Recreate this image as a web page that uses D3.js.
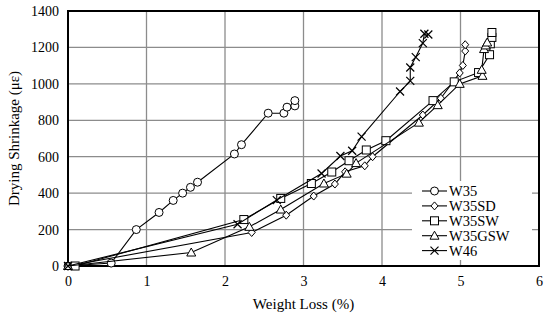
<!DOCTYPE html>
<html>
<head>
<meta charset="utf-8">
<script src="https://cdn.jsdelivr.net/npm/d3@7"></script>
<style>
  body { margin: 0; background: #fff; }
</style>
</head>
<body>
<div id="chart"></div>
<script>
/* drawing config */
let svgWidth = 550;
let svgHeight = 323;
let margin = { top: 11, right: 11, bottom: 57, left: 68 };
let serif = "Liberation Serif";

/* data: [weight loss %, shrinkage με] */
let seriesNames = ["W35", "W35SD", "W35SW", "W35GSW", "W46"];
let symbols = ["circle", "diamond", "square", "triangle", "cross"];

let w35 = [[0, 0], [0.55, 16], [0.87, 200], [1.16, 294], [1.34, 360], [1.46, 400], [1.56, 432],
    [1.65, 460], [2.12, 615], [2.21, 666], [2.55, 839], [2.75, 839], [2.79, 872], [2.89, 879], [2.89, 908]];
let w35sd = [[0, 0], [2.34, 184], [2.78, 279], [3.13, 384], [3.40, 450], [3.53, 517], [3.78, 550],
    [3.88, 600], [4.52, 829], [4.75, 921], [4.99, 1060], [5.03, 1101], [5.06, 1180], [5.06, 1215]];
let w35sw = [[0.09, 0], [2.24, 255], [2.71, 371], [3.10, 453], [3.36, 516], [3.58, 578], [3.80, 637],
    [4.05, 688], [4.65, 908], [4.92, 1011], [5.23, 1062], [5.37, 1160], [5.38, 1220], [5.40, 1255], [5.40, 1282]];
let w35gsw = [[0, 0], [1.57, 74], [2.31, 215], [2.71, 310], [3.26, 453], [3.55, 507], [3.67, 565],
    [4.47, 787], [4.71, 883], [4.99, 1000], [5.28, 1044], [5.27, 1077], [5.30, 1191], [5.32, 1211], [5.34, 1227]];
let w46 = [[0, 0], [2.16, 229], [2.66, 362], [3.23, 508], [3.47, 604], [3.62, 633], [3.74, 710],
    [4.23, 958], [4.36, 1016], [4.36, 1090], [4.43, 1147], [4.52, 1224], [4.54, 1275], [4.59, 1271]];
let allSeries = [w35, w35sd, w35sw, w35gsw, w46];

let xTicks = [0, 1, 2, 3, 4, 5, 6];
let yTicks = [0, 200, 400, 600, 800, 1000, 1200, 1400];

let svg = d3.select("#chart").append("svg")
    .attr("width", svgWidth)
    .attr("height", svgHeight);

let xScale = d3.scaleLinear()
    .domain([0, 6])
    .range([margin.left, svgWidth - margin.right]);

let yScale = d3.scaleLinear()
    .domain([0, 1400])
    .range([svgHeight - margin.bottom, margin.top]);

// grid lines
svg.append("g").selectAll("line.vg")
    .data(xTicks.slice(1, -1))
    .enter().append("line")
    .attr("x1", d => xScale(d)).attr("x2", d => xScale(d))
    .attr("y1", yScale(0)).attr("y2", yScale(1400))
    .attr("stroke", "#8c8c8c").attr("stroke-width", 1.3);

svg.append("g").selectAll("line.hg")
    .data(yTicks.slice(1, -1))
    .enter().append("line")
    .attr("x1", xScale(0)).attr("x2", xScale(6))
    .attr("y1", d => yScale(d)).attr("y2", d => yScale(d))
    .attr("stroke", "#8c8c8c").attr("stroke-width", 1.3);

// legend background hides the grid behind it
svg.append("rect")
    .attr("x", 412).attr("y", 181)
    .attr("width", 120).attr("height", 79)
    .attr("fill", "#fff");

// axes
let xAxis = d3.axisBottom(xScale).tickValues(xTicks).tickFormat(d3.format("d")).tickSize(0).tickPadding(10);
let yAxis = d3.axisLeft(yScale).tickValues(yTicks).tickFormat(d3.format("d")).tickSize(0).tickPadding(9);

let gx = svg.append("g")
    .attr("transform", `translate(0,${yScale(0)})`)
    .call(xAxis);
let gy = svg.append("g")
    .attr("transform", `translate(${xScale(0)},0)`)
    .call(yAxis);
[gx, gy].forEach(g => {
    g.select(".domain").remove();
    g.selectAll("text")
        .attr("fill", "#000")
        .style("font-family", serif)
        .style("font-size", "14px");
});

// plot border
svg.append("rect")
    .attr("x", xScale(0)).attr("y", yScale(1400))
    .attr("width", xScale(6) - xScale(0))
    .attr("height", yScale(0) - yScale(1400))
    .attr("fill", "none").attr("stroke", "#000").attr("stroke-width", 2);

// axis titles
svg.append("text")
    .attr("x", (xScale(0) + xScale(6)) / 2)
    .attr("y", 309)
    .attr("text-anchor", "middle")
    .style("font-family", serif)
    .style("font-size", "15px")
    .text("Weight Loss (%)");

svg.append("text")
    .attr("transform", `translate(19,${(yScale(0) + yScale(1400)) / 2}) rotate(-90)`)
    .attr("text-anchor", "middle")
    .style("font-family", serif)
    .style("font-size", "15px")
    .text("Drying Shrinkage (με)");

// marker drawing helper
function drawMarker(g, type, cx, cy) {
    if (type == "circle") {
        g.append("circle").attr("cx", cx).attr("cy", cy).attr("r", 4)
            .attr("fill", "#fff").attr("stroke", "#000").attr("stroke-width", 1);
    } else if (type == "diamond") {
        g.append("path")
            .attr("d", `M${cx},${cy - 4}L${cx + 3.5},${cy}L${cx},${cy + 4}L${cx - 3.5},${cy}Z`)
            .attr("fill", "#fff").attr("stroke", "#000").attr("stroke-width", 1);
    } else if (type == "square") {
        g.append("rect").attr("x", cx - 4).attr("y", cy - 4).attr("width", 8).attr("height", 8)
            .attr("fill", "#fff").attr("stroke", "#000").attr("stroke-width", 1);
    } else if (type == "triangle") {
        g.append("path")
            .attr("d", `M${cx},${cy - 4.5}L${cx + 4.5},${cy + 3.5}L${cx - 4.5},${cy + 3.5}Z`)
            .attr("fill", "#fff").attr("stroke", "#000").attr("stroke-width", 1);
    } else {
        g.append("path")
            .attr("d", `M${cx - 4},${cy - 4}L${cx + 4},${cy + 4}M${cx - 4},${cy + 4}L${cx + 4},${cy - 4}`)
            .attr("fill", "none").attr("stroke", "#000").attr("stroke-width", 1.2);
    }
}

let line = d3.line()
    .x(d => xScale(d[0]))
    .y(d => yScale(d[1]));

// lines first, markers on top, series in order
allSeries.forEach(function(data, i) {
    let g = svg.append("g");
    g.append("path")
        .datum(data)
        .attr("d", line)
        .attr("fill", "none")
        .attr("stroke", "#000")
        .attr("stroke-width", 1.1);
    data.forEach(function(d) {
        drawMarker(g, symbols[i], xScale(d[0]), yScale(d[1]));
    });
});

// legend
let legendX = 422;
let legendY = 191;
let legendGap = 14.9;
seriesNames.forEach(function(name, i) {
    let y = legendY + i * legendGap;
    let g = svg.append("g");
    g.append("line")
        .attr("x1", legendX).attr("x2", legendX + 25)
        .attr("y1", y).attr("y2", y)
        .attr("stroke", "#000").attr("stroke-width", 1.1);
    drawMarker(g, symbols[i], legendX + 12.5, y);
    g.append("text")
        .attr("x", legendX + 27)
        .attr("y", y + 5)
        .style("font-family", serif)
        .style("font-size", "14.5px")
        .text(name);
});
</script>
</body>
</html>
